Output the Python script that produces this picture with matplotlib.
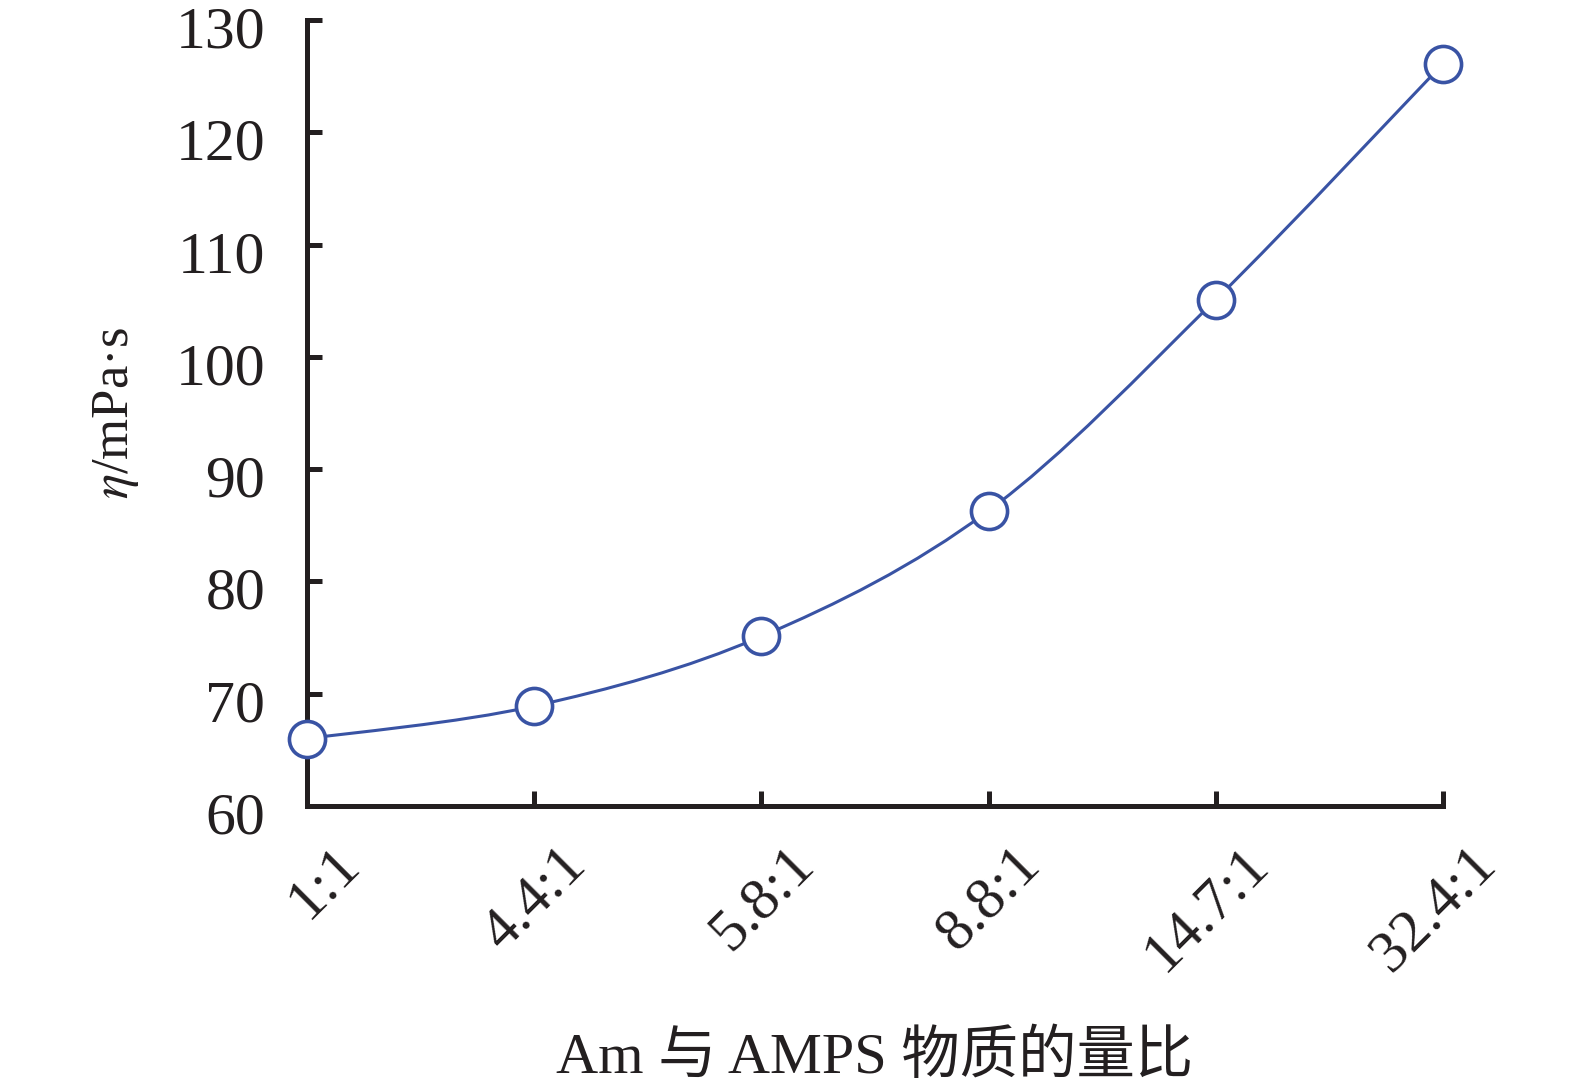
import matplotlib
matplotlib.use("Agg")
import matplotlib.pyplot as plt
import matplotlib.transforms as mtransforms
from matplotlib.path import Path
from matplotlib.patches import PathPatch
import numpy as np

plt.rcParams['font.family'] = ['Liberation Serif', 'Noto Sans CJK SC']
plt.rcParams['mathtext.fontset'] = 'stix'

ratios = ["1:1", "4.4:1", "5.8:1", "8.8:1", "14.7:1", "32.4:1"]
viscosity = [66.0, 68.9, 75.1, 86.3, 105.1, 126.1]

blue = "#3953a4"

fig = plt.figure(figsize=(15.75, 10.91), dpi=100)
ax = fig.add_axes([0.1949, 0.2612, 0.7213, 0.7205])

x = np.arange(len(ratios))
y = np.array(viscosity)

# smooth line through the points (Catmull-Rom as Bezier segments)
verts = [(x[0], y[0])]
codes = [Path.MOVETO]
for i in range(len(x) - 1):
    p0 = np.array([x[max(i - 1, 0)], y[max(i - 1, 0)]])
    p1 = np.array([x[i], y[i]])
    p2 = np.array([x[i + 1], y[i + 1]])
    p3 = np.array([x[min(i + 2, len(x) - 1)], y[min(i + 2, len(x) - 1)]])
    c1 = p1 + (p2 - p0) / 6
    c2 = p2 - (p3 - p1) / 6
    verts += [tuple(c1), tuple(c2), tuple(p2)]
    codes += [Path.CURVE4] * 3
ax.add_patch(PathPatch(Path(verts, codes), fill=False, edgecolor=blue, lw=2.2, zorder=3))

ax.plot(x, y, linestyle="none", marker="o", markersize=26, markerfacecolor="white",
        markeredgecolor=blue, markeredgewidth=2.6, zorder=4, clip_on=False)

ax.set_xlim(0, 5)
ax.set_ylim(60, 130)
ax.set_yticks(range(60, 131, 10))
ax.set_xticks(x)
ax.set_xticklabels(ratios, rotation=45, ha="right", va="top", rotation_mode="anchor")

for s in ["top", "right"]:
    ax.spines[s].set_visible(False)
for s in ["left", "bottom"]:
    ax.spines[s].set_linewidth(3.6)
    ax.spines[s].set_color("#231f20")

ax.tick_params(axis="both", direction="in", length=11, width=3.6, color="#231f20",
               labelsize=43, labelcolor="#231f20")
ax.tick_params(axis="y", pad=30)
ax.tick_params(axis="x", pad=18)

# nudge tick labels like the original
shift_x = mtransforms.ScaledTranslation(0.25, -0.06, fig.dpi_scale_trans)
for lab in ax.get_xticklabels():
    lab.set_transform(lab.get_transform() + shift_x)
shift_y = mtransforms.ScaledTranslation(0, -0.07, fig.dpi_scale_trans)
for lab in ax.get_yticklabels():
    lab.set_transform(lab.get_transform() + shift_y)

ax.set_ylabel(r"$\mathit{\eta}$/mPa·s", fontsize=38, color="#231f20", labelpad=25)
ax.set_xlabel("Am 与 AMPS 物质的量比", fontsize=42, color="#231f20", labelpad=35)

fig.savefig("out.png", dpi=100)
